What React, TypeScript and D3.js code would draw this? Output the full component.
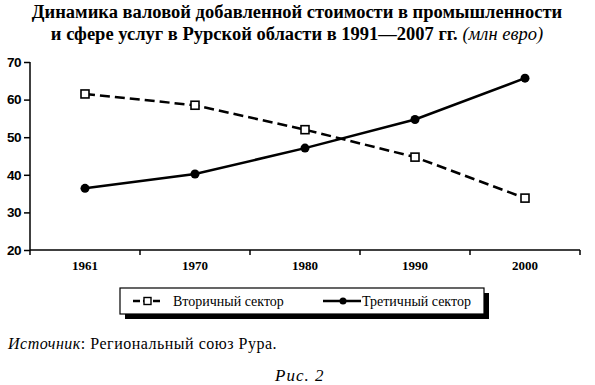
import React, { useEffect, useRef } from 'react';
import * as d3 from 'd3';

const years = ['1961', '1970', '1980', '1990', '2000'];
const secondary = [61.5, 58.5, 52, 44.7, 33.8];
const tertiary = [36.4, 40.2, 47.1, 54.7, 65.7];
const yTicks = [20, 30, 40, 50, 60, 70];

const W = 595;
const H = 385;

const App = () => {
  const ref = useRef<SVGSVGElement | null>(null);

  useEffect(() => {
    const svg = d3.select(ref.current);
    svg.selectAll('*').remove();

    const serif = '"Liberation Serif", "Times New Roman", serif';
    const sans = '"Liberation Sans", Arial, sans-serif';

    // title
    const title = svg.append('text')
      .attr('x', 297)
      .attr('text-anchor', 'middle')
      .style('font-family', serif)
      .style('font-size', '18.5px')
      .style('font-weight', 'bold');
    title.append('tspan').attr('x', 297).attr('y', 18)
      .text('Динамика валовой добавленной стоимости в промышленности');
    const l2 = title.append('tspan').attr('x', 297).attr('y', 40);
    l2.append('tspan').text('и сфере услуг в Рурской области в 1991—2007 гг. ');
    l2.append('tspan').style('font-weight', 'normal').style('font-style', 'italic')
      .text('(млн евро)');

    const x = d3.scaleBand().domain(years).range([30, 580]).padding(0);
    const y = d3.scaleLinear().domain([20, 70]).range([250, 62]);

    // y axis
    const yAxis = d3.axisLeft(y).tickValues(yTicks).tickSize(6).tickPadding(3);
    const gy = svg.append('g').attr('transform', 'translate(30,0)').call(yAxis);
    gy.select('.domain').attr('stroke', '#000').attr('stroke-width', 1.5).attr('d', 'M0,62V255');
    gy.selectAll('.tick line').attr('stroke', '#000').attr('stroke-width', 1.5);
    gy.selectAll('.tick text')
      .style('font-family', sans)
      .style('font-size', '13.5px')
      .style('font-weight', 'bold')
      .style('letter-spacing', '-0.5px')
      .attr('fill', '#000');

    // x axis: ticks on band edges
    const gx = svg.append('g').attr('transform', 'translate(0,250)');
    gx.append('line').attr('x1', 30).attr('x2', 580).attr('y1', 0).attr('y2', 0)
      .attr('stroke', '#000').attr('stroke-width', 1.5);
    const edges = years.map((d) => (x(d) as number) + x.bandwidth());
    gx.selectAll('line.tk').data(edges).enter().append('line')
      .attr('class', 'tk')
      .attr('x1', (d) => d).attr('x2', (d) => d)
      .attr('y1', 0).attr('y2', 5)
      .attr('stroke', '#000').attr('stroke-width', 1.5);
    gx.selectAll('text').data(years).enter().append('text')
      .attr('x', (d) => (x(d) as number) + x.bandwidth() / 2)
      .attr('y', 20)
      .attr('text-anchor', 'middle')
      .style('font-family', serif)
      .style('font-size', '13px')
      .style('font-weight', 'bold')
      .text((d) => d);

    const cx = (i: number) => (x(years[i]) as number) + x.bandwidth() / 2;
    const line = d3.line<number>().x((_, i) => cx(i)).y((d) => y(d));

    svg.append('path').datum(secondary).attr('d', line)
      .attr('fill', 'none').attr('stroke', '#000').attr('stroke-width', 2.5)
      .attr('stroke-dasharray', '10,5');
    svg.append('path').datum(tertiary).attr('d', line)
      .attr('fill', 'none').attr('stroke', '#000').attr('stroke-width', 2.5);

    svg.selectAll('rect.sq').data(secondary).enter().append('rect')
      .attr('class', 'sq')
      .attr('x', (_, i) => cx(i) - 4).attr('y', (d) => y(d) - 4)
      .attr('width', 8).attr('height', 8)
      .attr('fill', '#fff').attr('stroke', '#000').attr('stroke-width', 1.6);
    svg.selectAll('circle.dot').data(tertiary).enter().append('circle')
      .attr('class', 'dot')
      .attr('cx', (_, i) => cx(i)).attr('cy', (d) => y(d))
      .attr('r', 4.5).attr('fill', '#000');

    // legend
    const lg = svg.append('g');
    lg.append('rect').attr('x', 125).attr('y', 293).attr('width', 364).attr('height', 26).attr('fill', '#000');
    lg.append('rect').attr('x', 120).attr('y', 288).attr('width', 364).attr('height', 26)
      .attr('fill', '#fff').attr('stroke', '#000').attr('stroke-width', 1.2);
    lg.append('line').attr('x1', 133).attr('x2', 162).attr('y1', 301).attr('y2', 301)
      .attr('stroke', '#000').attr('stroke-width', 2.4).attr('stroke-dasharray', '7,3');
    lg.append('rect').attr('x', 144).attr('y', 297.5).attr('width', 7).attr('height', 7)
      .attr('fill', '#fff').attr('stroke', '#000').attr('stroke-width', 1.4);
    lg.append('text').attr('x', 173).attr('y', 306)
      .style('font-family', serif).style('font-size', '14px').text('Вторичный сектор');
    lg.append('line').attr('x1', 323).attr('x2', 361).attr('y1', 301).attr('y2', 301)
      .attr('stroke', '#000').attr('stroke-width', 2.4);
    lg.append('circle').attr('cx', 343).attr('cy', 301).attr('r', 3.5).attr('fill', '#000');
    lg.append('text').attr('x', 362).attr('y', 306)
      .style('font-family', serif).style('font-size', '14px').text('Третичный сектор');

    // source
    const src = svg.append('text').attr('x', 8).attr('y', 349)
      .style('font-family', serif).style('font-size', '16px').style('letter-spacing', '0.5px');
    src.append('tspan').style('font-style', 'italic').text('Источник');
    src.append('tspan').text(': Региональный союз Рура.');

    svg.append('text').attr('x', 275).attr('y', 381)
      .style('font-family', serif).style('font-size', '17px').style('font-style', 'italic')
      .style('letter-spacing', '1px')
      .text('Рис. 2');
  }, []);

  return (
    <svg
      ref={ref}
      width={W}
      height={H}
      style={{ position: 'absolute', left: 0, top: 0, background: '#fff' }}
    />
  );
};

export default App;
